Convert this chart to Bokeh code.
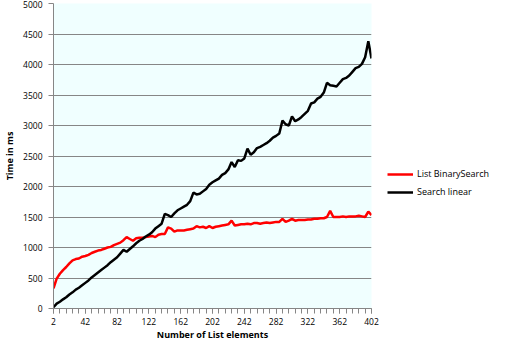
from bokeh.plotting import figure
from bokeh.layouts import row
from bokeh.models import FixedTicker, Legend, LegendItem, Range1d, ColumnDataSource
from bokeh.embed import file_html
from bokeh.resources import INLINE

# Data: number of list elements (every 4th) and timings in ms
elements = list(range(2, 403, 4))

binary_search = [
    330, 490, 570, 630, 680, 740, 790, 810, 820, 850,
    860, 880, 910, 930, 950, 960, 980, 1000, 1010, 1040,
    1060, 1080, 1120, 1170, 1140, 1110, 1150, 1160, 1160, 1170,
    1180, 1190, 1170, 1210, 1220, 1220, 1330, 1310, 1260, 1280,
    1280, 1280, 1290, 1300, 1310, 1350, 1330, 1340, 1320, 1350,
    1320, 1340, 1350, 1360, 1370, 1380, 1440, 1360, 1370, 1380,
    1380, 1390, 1380, 1400, 1400, 1390, 1400, 1410, 1400, 1410,
    1420, 1420, 1470, 1420, 1440, 1470, 1440, 1450, 1450, 1450,
    1460, 1460, 1470, 1470, 1480, 1480, 1500, 1600, 1500, 1500,
    1500, 1510, 1500, 1510, 1510, 1510, 1520, 1510, 1500, 1590,
    1530,
]

search_linear = [
    20, 80, 110, 150, 185, 230, 265, 310, 340, 380,
    420, 460, 510, 550, 590, 630, 670, 710, 760, 800,
    840, 900, 960, 930, 975, 1020, 1070, 1110, 1140, 1180,
    1210, 1250, 1310, 1350, 1390, 1550, 1530, 1500, 1560, 1610,
    1640, 1670, 1700, 1760, 1900, 1870, 1880, 1920, 1960, 2030,
    2070, 2100, 2130, 2190, 2220, 2280, 2400, 2320, 2430, 2420,
    2460, 2620, 2520, 2560, 2630, 2650, 2680, 2710, 2750, 2800,
    2830, 2870, 3080, 3020, 3000, 3150, 3070, 3100, 3140, 3190,
    3240, 3360, 3380, 3440, 3470, 3540, 3700, 3660, 3650, 3640,
    3700, 3760, 3780, 3820, 3880, 3940, 3960, 4010, 4120, 4380,
    4100,
]

x_major_ticks = list(range(2, 403, 40))
x_minor_ticks = list(range(2, 403, 8))
y_ticks = list(range(0, 5001, 500))

series_names = ["List BinarySearch", "Search linear"]
series_colors = ["#FF0000", "#000000"]

FONT = "Open Sans"

p = figure(
    width=379, height=343,
    output_backend="svg", toolbar_location=None,
    x_range=Range1d(2, 402), y_range=Range1d(0, 5000),
    min_border_top=3, min_border_left=48, min_border_right=8, min_border_bottom=33,
)
p.outline_line_color = None
p.background_fill_color = "#F0FFFF"
p.border_fill_color = "white"

src = ColumnDataSource(dict(x=elements, b=binary_search, s=search_linear))
p.line("x", "b", source=src, line_color=series_colors[0], line_width=2.5)
p.line("x", "s", source=src, line_color=series_colors[1], line_width=2.5)

# Axes
p.xaxis.ticker = FixedTicker(ticks=x_major_ticks, minor_ticks=x_minor_ticks)
p.yaxis.ticker = FixedTicker(ticks=y_ticks)
for ax in (p.xaxis, p.yaxis):
    ax.axis_line_color = "#868686"
    ax.major_tick_line_color = "#868686"
    ax.minor_tick_line_color = "#868686"
    ax.major_tick_in = 0
    ax.major_tick_out = 5
    ax.minor_tick_in = 0
    ax.major_label_text_font = FONT
    ax.major_label_text_font_size = "8.5px"
    ax.major_label_text_color = "#000000"
    ax.axis_label_text_font = FONT
    ax.axis_label_text_font_size = "9px"
    ax.axis_label_text_font_style = "bold"
    ax.axis_label_text_color = "#000000"
p.xaxis.minor_tick_out = 5
p.yaxis.minor_tick_out = 0
p.xaxis.major_label_standoff = 4
p.yaxis.major_label_standoff = 6
p.xaxis.axis_label = "Number of List elements"
p.yaxis.axis_label = "Time in ms"
p.xaxis.axis_label_standoff = 0
p.yaxis.axis_label_standoff = 4

p.xgrid.grid_line_color = None
p.ygrid.grid_line_color = "#868686"
p.ygrid.grid_line_width = 1

# Legend panel on the right (separate small figure so nothing is clipped)
lg = figure(
    width=110, height=343,
    output_backend="svg", toolbar_location=None,
    x_range=Range1d(-10, -9), y_range=Range1d(-10, -9),
    min_border=0,
)
lg.axis.visible = False
lg.grid.grid_line_color = None
lg.outline_line_color = None
lg.background_fill_color = "white"
lg.border_fill_color = "white"
# same series drawn off-range (invisible) just to feed the legend glyphs
d1 = lg.line("x", "b", source=src, line_color=series_colors[0], line_width=2.5)
d2 = lg.line("x", "s", source=src, line_color=series_colors[1], line_width=2.5)

legend = Legend(
    items=[LegendItem(label=series_names[0], renderers=[d1]),
           LegendItem(label=series_names[1], renderers=[d2])],
    location=(8, 110),
    orientation="vertical",
    background_fill_alpha=0, border_line_color=None,
    padding=0, margin=0, spacing=5,
    glyph_width=26, glyph_height=12, label_height=12,
    label_standoff=4,
    label_text_font=FONT, label_text_font_size="9px", label_text_color="#000000",
)
lg.add_layout(legend, "center")

layout = row(p, lg)
open("out.html", "w").write(file_html(layout, INLINE))
